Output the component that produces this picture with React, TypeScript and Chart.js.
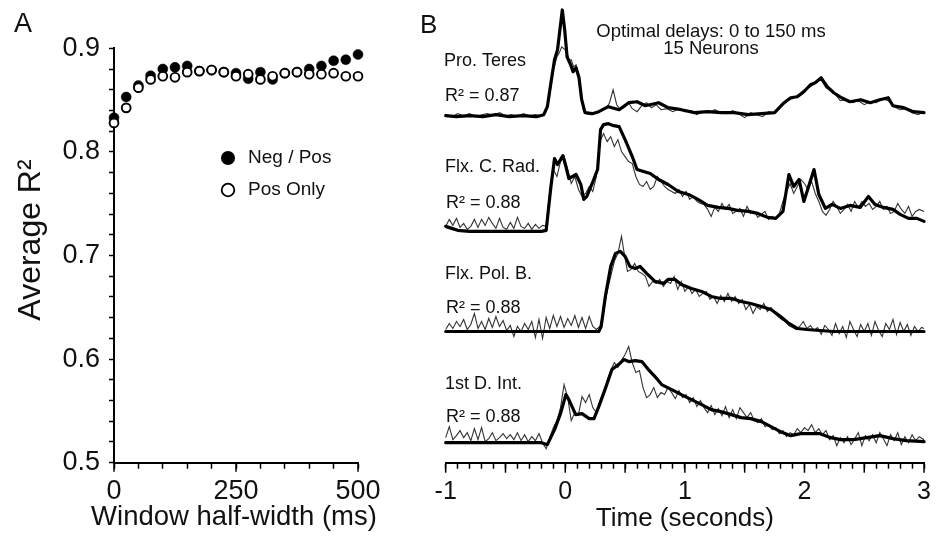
import React, { useEffect, useRef } from 'react';
import { Chart, registerables } from 'chart.js';

Chart.register(...registerables);

const FONT = '"Liberation Sans", Arial, Helvetica, sans-serif';
const INK = '#111';

// ---------------- Panel A data ----------------
const windowHalfWidthsMs = [0, 25, 50, 75, 100, 125, 150, 175, 200, 225, 250, 275, 300, 325, 350, 375, 400, 425, 450, 475, 500];
const negPosR2 = [0.833, 0.853, 0.864, 0.8735, 0.88, 0.8816, 0.883, 0.878, 0.879, 0.877, 0.876, 0.8706, 0.877, 0.87, 0.876, 0.877, 0.88, 0.883, 0.888, 0.889, 0.894];
const posOnlyR2 = [0.828, 0.8425, 0.862, 0.87, 0.873, 0.872, 0.877, 0.878, 0.879, 0.877, 0.873, 0.875, 0.87, 0.873, 0.876, 0.877, 0.875, 0.875, 0.876, 0.873, 0.873];
const panelAXTickLabels = ['0', '250', '500'];
const panelAYTickLabels = ['0.5', '0.6', '0.7', '0.8', '0.9'];
const legendLabels = ['Neg / Pos', 'Pos Only'];

// ---------------- Panel B data: [time (s), normalised activity] ----------------
const timeTickLabels = ['-1', '0', '1', '2', '3'];
const timeMajorTicks = [-1, -0.5, 0, 0.5, 1, 1.5, 2, 2.5, 3];
const traceNames = ['Pro. Teres', 'Flx. C. Rad.', 'Flx. Pol. B.', '1st D. Int.'];
const traceR2 = ['0.87', '0.88', '0.88', '0.88'];

const proTeresThick: [number, number][] = [[-1, -0.01], [-0.91, -0.02], [-0.8, -0.01], [-0.69, -0.02], [-0.58, 0], [-0.47, -0.02], [-0.36, -0.01], [-0.24, -0.02], [-0.18, 0], [-0.15, 0.08], [-0.12, 0.32], [-0.09, 0.55], [-0.065, 0.65], [-0.045, 0.85], [-0.025, 1.05], [-0.005, 0.85], [0.015, 0.58], [0.045, 0.5], [0.065, 0.43], [0.09, 0.47], [0.115, 0.37], [0.137, 0.15], [0.165, 0.02], [0.225, 0.01], [0.28, 0.03], [0.36, 0.08], [0.45, 0.05], [0.53, 0.12], [0.6, 0.13], [0.67, 0.09], [0.78, 0.12], [0.86, 0.07], [0.97, 0.05], [1.08, 0.02], [1.19, 0.03], [1.3, 0.02], [1.41, 0.02], [1.53, 0], [1.64, 0.01], [1.75, 0.02], [1.83, 0.12], [1.885, 0.17], [1.94, 0.18], [1.995, 0.23], [2.05, 0.3], [2.09, 0.32], [2.14, 0.37], [2.19, 0.28], [2.245, 0.22], [2.31, 0.17], [2.38, 0.13], [2.47, 0.15], [2.55, 0.12], [2.63, 0.15], [2.7, 0.17], [2.74, 0.09], [2.83, 0.07], [2.91, 0.03], [3, 0.02]];
const proTeresThin: [number, number][] = [[-1, 0], [-0.95, -0.02], [-0.9, 0.01], [-0.85, -0.01], [-0.8, 0.01], [-0.75, -0.02], [-0.7, 0], [-0.65, 0.01], [-0.6, -0.01], [-0.55, 0.02], [-0.5, -0.01], [-0.45, 0], [-0.4, -0.02], [-0.35, 0.01], [-0.3, -0.01], [-0.25, 0], [-0.2, -0.01], [-0.16, 0.03], [-0.13, 0.2], [-0.1, 0.45], [-0.07, 0.58], [-0.05, 0.62], [-0.03, 0.68], [-0.01, 0.66], [0.01, 0.64], [0.03, 0.55], [0.05, 0.55], [0.07, 0.48], [0.09, 0.5], [0.11, 0.4], [0.13, 0.2], [0.15, 0.05], [0.18, 0.01], [0.22, 0], [0.26, 0.02], [0.3, 0.05], [0.34, 0.06], [0.37, 0.12], [0.4, 0.25], [0.43, 0.1], [0.46, 0.05], [0.5, 0.08], [0.53, 0.12], [0.56, 0.06], [0.6, 0.03], [0.64, 0.09], [0.68, 0.12], [0.72, 0.07], [0.76, 0.1], [0.8, 0.05], [0.85, 0.06], [0.9, 0.03], [0.95, 0.06], [1, 0.03], [1.05, 0.04], [1.1, 0], [1.15, 0.03], [1.2, 0.02], [1.25, 0.05], [1.3, 0.02], [1.35, 0.01], [1.4, 0.04], [1.45, 0.01], [1.5, -0.03], [1.55, 0.02], [1.6, 0], [1.65, -0.02], [1.7, 0.03], [1.75, 0.01], [1.8, 0.08], [1.85, 0.15], [1.9, 0.16], [1.95, 0.2], [2, 0.25], [2.05, 0.28], [2.1, 0.33], [2.14, 0.35], [2.18, 0.27], [2.22, 0.25], [2.26, 0.2], [2.3, 0.14], [2.35, 0.15], [2.4, 0.12], [2.45, 0.14], [2.5, 0.1], [2.55, 0.13], [2.6, 0.12], [2.65, 0.16], [2.7, 0.14], [2.75, 0.08], [2.8, 0.05], [2.85, 0.06], [2.9, 0.02], [2.95, 0], [3, 0.03]];

const flxCRadThick: [number, number][] = [[-1, 0.05], [-0.95, 0.03], [-0.9, 0.01], [-0.8, 0], [-0.7, 0], [-0.6, 0], [-0.5, 0], [-0.4, 0], [-0.3, 0], [-0.2, 0], [-0.16, 0.01], [-0.12, 0.45], [-0.09, 0.73], [-0.065, 0.67], [-0.02, 0.76], [0.005, 0.65], [0.03, 0.53], [0.09, 0.57], [0.13, 0.47], [0.155, 0.32], [0.18, 0.35], [0.225, 0.48], [0.27, 0.62], [0.295, 1.02], [0.32, 1.07], [0.36, 1.08], [0.405, 1.06], [0.45, 1.05], [0.5, 0.92], [0.56, 0.75], [0.6, 0.62], [0.655, 0.6], [0.71, 0.58], [0.78, 0.52], [0.86, 0.47], [0.945, 0.4], [1.03, 0.37], [1.11, 0.32], [1.19, 0.26], [1.28, 0.24], [1.36, 0.23], [1.44, 0.21], [1.53, 0.2], [1.61, 0.18], [1.69, 0.14], [1.76, 0.13], [1.82, 0.2], [1.87, 0.57], [1.91, 0.45], [1.955, 0.52], [1.995, 0.3], [2.04, 0.47], [2.08, 0.62], [2.12, 0.37], [2.175, 0.23], [2.23, 0.27], [2.3, 0.23], [2.38, 0.26], [2.465, 0.24], [2.535, 0.35], [2.59, 0.27], [2.66, 0.24], [2.74, 0.22], [2.8, 0.17], [2.87, 0.13], [2.94, 0.13], [3, 0.1]];
const flxCRadThin: [number, number][] = [[-1, 0.05], [-0.97, 0.12], [-0.94, 0.06], [-0.91, 0.13], [-0.88, 0.04], [-0.85, 0.08], [-0.82, 0.02], [-0.79, 0.05], [-0.76, 0.12], [-0.73, 0.04], [-0.7, 0.12], [-0.67, 0.06], [-0.64, 0.14], [-0.61, 0.08], [-0.58, 0.03], [-0.55, 0.13], [-0.52, 0.04], [-0.49, 0.02], [-0.46, 0.09], [-0.43, 0.03], [-0.4, 0.14], [-0.37, 0.05], [-0.34, 0.03], [-0.31, 0.08], [-0.28, 0.02], [-0.25, 0.07], [-0.22, 0.03], [-0.19, 0.06], [-0.16, 0.05], [-0.13, 0.4], [-0.1, 0.62], [-0.07, 0.55], [-0.04, 0.7], [-0.01, 0.75], [0.02, 0.62], [0.05, 0.48], [0.08, 0.55], [0.11, 0.42], [0.14, 0.35], [0.17, 0.38], [0.2, 0.45], [0.23, 0.4], [0.26, 0.55], [0.29, 0.9], [0.32, 0.98], [0.35, 0.9], [0.38, 0.95], [0.41, 0.85], [0.44, 0.92], [0.47, 0.8], [0.5, 0.75], [0.53, 0.7], [0.56, 0.68], [0.59, 0.55], [0.62, 0.47], [0.65, 0.45], [0.68, 0.5], [0.71, 0.42], [0.74, 0.45], [0.77, 0.55], [0.8, 0.5], [0.83, 0.45], [0.86, 0.42], [0.89, 0.4], [0.92, 0.38], [0.95, 0.42], [0.98, 0.35], [1.01, 0.4], [1.04, 0.32], [1.07, 0.35], [1.1, 0.3], [1.13, 0.28], [1.16, 0.27], [1.19, 0.22], [1.22, 0.15], [1.25, 0.24], [1.28, 0.2], [1.31, 0.28], [1.34, 0.22], [1.37, 0.27], [1.4, 0.18], [1.43, 0.2], [1.46, 0.23], [1.49, 0.15], [1.52, 0.25], [1.55, 0.18], [1.58, 0.2], [1.61, 0.14], [1.64, 0.17], [1.67, 0.2], [1.7, 0.12], [1.73, 0.15], [1.76, 0.13], [1.79, 0.18], [1.82, 0.3], [1.85, 0.4], [1.88, 0.48], [1.91, 0.38], [1.94, 0.45], [1.97, 0.52], [2, 0.48], [2.03, 0.42], [2.06, 0.5], [2.09, 0.38], [2.12, 0.3], [2.15, 0.2], [2.18, 0.16], [2.21, 0.22], [2.24, 0.3], [2.27, 0.25], [2.3, 0.18], [2.33, 0.22], [2.36, 0.27], [2.39, 0.2], [2.42, 0.3], [2.45, 0.24], [2.48, 0.3], [2.51, 0.25], [2.54, 0.28], [2.57, 0.22], [2.6, 0.25], [2.63, 0.3], [2.66, 0.22], [2.69, 0.25], [2.72, 0.18], [2.75, 0.2], [2.78, 0.28], [2.81, 0.22], [2.84, 0.18], [2.87, 0.25], [2.9, 0.15], [2.93, 0.2], [2.96, 0.22], [3, 0.2]];

const flxPolBThick: [number, number][] = [[-1, 0], [-0.7, 0], [-0.4, 0], [-0.1, 0], [0.28, 0], [0.3, 0.05], [0.335, 0.35], [0.38, 0.65], [0.42, 0.78], [0.46, 0.8], [0.5, 0.75], [0.54, 0.65], [0.585, 0.63], [0.625, 0.65], [0.68, 0.58], [0.75, 0.5], [0.82, 0.48], [0.86, 0.52], [0.917, 0.52], [0.97, 0.47], [1.055, 0.43], [1.14, 0.4], [1.22, 0.35], [1.3, 0.33], [1.39, 0.33], [1.47, 0.3], [1.55, 0.28], [1.64, 0.25], [1.72, 0.22], [1.8, 0.15], [1.87, 0.08], [1.94, 0.03], [2.02, 0.02], [2.13, 0.01], [2.24, 0], [2.6, 0], [3, 0]];
const flxPolBThin: [number, number][] = [[-1, 0.02], [-0.97, 0.08], [-0.94, 0.03], [-0.91, 0.1], [-0.88, 0.05], [-0.85, 0.12], [-0.82, 0.02], [-0.79, 0.07], [-0.76, 0.18], [-0.73, 0.03], [-0.7, 0.1], [-0.67, 0.02], [-0.64, 0.13], [-0.61, 0.04], [-0.58, 0.15], [-0.55, 0.05], [-0.52, 0.11], [-0.49, 0.01], [-0.46, 0.06], [-0.43, -0.05], [-0.4, 0.05], [-0.37, 0], [-0.34, 0.08], [-0.31, 0.02], [-0.28, 0.1], [-0.25, -0.06], [-0.22, 0.12], [-0.19, -0.07], [-0.16, 0.14], [-0.13, 0.03], [-0.1, 0.16], [-0.07, 0.05], [-0.04, 0.15], [-0.01, 0.04], [0.02, 0.13], [0.05, 0.06], [0.08, 0.16], [0.11, 0.04], [0.14, 0.14], [0.17, 0.03], [0.2, 0.15], [0.23, 0.05], [0.26, 0.02], [0.29, 0.05], [0.32, 0.2], [0.35, 0.4], [0.38, 0.55], [0.41, 0.7], [0.44, 0.78], [0.47, 0.95], [0.49, 0.8], [0.52, 0.6], [0.55, 0.62], [0.58, 0.68], [0.61, 0.6], [0.64, 0.58], [0.67, 0.55], [0.7, 0.45], [0.73, 0.5], [0.76, 0.48], [0.79, 0.52], [0.82, 0.45], [0.85, 0.5], [0.88, 0.48], [0.91, 0.55], [0.94, 0.42], [0.97, 0.5], [1, 0.4], [1.03, 0.45], [1.06, 0.38], [1.09, 0.42], [1.12, 0.35], [1.15, 0.38], [1.18, 0.4], [1.21, 0.32], [1.24, 0.35], [1.27, 0.28], [1.3, 0.36], [1.33, 0.3], [1.36, 0.38], [1.39, 0.3], [1.42, 0.35], [1.45, 0.28], [1.48, 0.32], [1.51, 0.22], [1.54, 0.27], [1.57, 0.18], [1.6, 0.25], [1.63, 0.22], [1.66, 0.28], [1.69, 0.2], [1.72, 0.24], [1.75, 0.18], [1.78, 0.15], [1.81, 0.12], [1.84, 0.1], [1.87, 0.06], [1.9, 0.04], [1.93, 0.02], [1.96, 0.05], [1.99, 0.1], [2.02, 0.03], [2.05, 0.06], [2.08, 0.01], [2.11, 0.04], [2.14, -0.03], [2.17, 0.06], [2.2, 0.02], [2.23, -0.04], [2.26, 0.08], [2.29, -0.02], [2.32, 0.05], [2.35, -0.06], [2.38, 0.1], [2.41, 0.02], [2.44, -0.05], [2.47, 0.07], [2.5, 0], [2.53, 0.08], [2.56, -0.04], [2.59, 0.1], [2.62, 0.01], [2.65, -0.05], [2.68, 0.08], [2.71, 0.02], [2.74, 0.12], [2.77, -0.03], [2.8, 0.09], [2.83, 0], [2.86, 0.07], [2.89, -0.04], [2.92, 0.05], [2.95, 0], [2.98, 0.04], [3, 0.03]];

const firstDIntThick: [number, number][] = [[-1, 0], [-0.6, 0], [-0.3, 0], [-0.2, 0], [-0.15, -0.02], [-0.09, 0.13], [-0.04, 0.29], [0.005, 0.48], [0.03, 0.43], [0.087, 0.28], [0.14, 0.29], [0.2, 0.24], [0.24, 0.24], [0.28, 0.36], [0.335, 0.54], [0.39, 0.73], [0.445, 0.78], [0.49, 0.83], [0.53, 0.81], [0.585, 0.82], [0.64, 0.81], [0.695, 0.73], [0.75, 0.66], [0.806, 0.58], [0.89, 0.53], [0.97, 0.48], [1.055, 0.43], [1.14, 0.38], [1.22, 0.33], [1.3, 0.31], [1.39, 0.28], [1.47, 0.25], [1.55, 0.24], [1.64, 0.21], [1.72, 0.16], [1.8, 0.11], [1.885, 0.07], [1.97, 0.09], [2.05, 0.09], [2.13, 0.09], [2.22, 0.05], [2.3, 0.03], [2.41, 0.03], [2.52, 0.05], [2.63, 0.07], [2.74, 0.04], [2.85, 0.02], [3, 0.01]];
const firstDIntThin: [number, number][] = [[-1, 0.05], [-0.97, 0.16], [-0.94, 0.03], [-0.91, 0.07], [-0.88, 0.12], [-0.85, 0.05], [-0.82, 0.1], [-0.79, 0.02], [-0.76, 0.14], [-0.73, 0.03], [-0.7, 0.15], [-0.67, 0.01], [-0.64, 0.04], [-0.61, 0.1], [-0.58, 0.02], [-0.55, 0.05], [-0.52, 0.09], [-0.49, 0.04], [-0.46, 0.08], [-0.43, 0.03], [-0.4, 0.1], [-0.37, 0.02], [-0.34, 0.08], [-0.31, 0.01], [-0.28, 0.06], [-0.25, 0.02], [-0.22, 0.09], [-0.19, 0], [-0.16, -0.06], [-0.13, 0.05], [-0.1, 0.15], [-0.07, 0.22], [-0.04, 0.35], [-0.01, 0.58], [0.02, 0.45], [0.05, 0.22], [0.08, 0.3], [0.11, 0.28], [0.14, 0.46], [0.17, 0.4], [0.2, 0.48], [0.23, 0.35], [0.26, 0.3], [0.29, 0.42], [0.32, 0.5], [0.35, 0.62], [0.38, 0.72], [0.41, 0.8], [0.44, 0.75], [0.47, 0.82], [0.5, 0.88], [0.53, 0.96], [0.56, 0.8], [0.59, 0.7], [0.62, 0.72], [0.65, 0.55], [0.68, 0.45], [0.71, 0.48], [0.74, 0.55], [0.77, 0.45], [0.8, 0.5], [0.83, 0.48], [0.86, 0.55], [0.89, 0.5], [0.92, 0.44], [0.95, 0.52], [0.98, 0.45], [1.01, 0.48], [1.04, 0.4], [1.07, 0.45], [1.1, 0.36], [1.13, 0.42], [1.16, 0.35], [1.19, 0.3], [1.22, 0.37], [1.25, 0.28], [1.28, 0.34], [1.31, 0.27], [1.34, 0.36], [1.37, 0.25], [1.4, 0.33], [1.43, 0.24], [1.46, 0.35], [1.49, 0.3], [1.52, 0.25], [1.55, 0.3], [1.58, 0.22], [1.61, 0.2], [1.64, 0.24], [1.67, 0.16], [1.7, 0.18], [1.73, 0.13], [1.76, 0.15], [1.79, 0.09], [1.82, 0.12], [1.85, 0.06], [1.88, 0.1], [1.91, 0.08], [1.94, 0.14], [1.97, 0.1], [2, 0.15], [2.03, 0.12], [2.06, 0.18], [2.09, 0.1], [2.12, 0.14], [2.15, 0.08], [2.18, 0.12], [2.21, 0.03], [2.24, 0.07], [2.27, -0.03], [2.3, 0.05], [2.33, 0], [2.36, 0.06], [2.39, -0.02], [2.42, 0.04], [2.45, 0.1], [2.48, -0.03], [2.51, 0.07], [2.54, 0.02], [2.57, 0.08], [2.6, 0], [2.63, 0.1], [2.66, 0.04], [2.69, -0.03], [2.72, 0.08], [2.75, 0.02], [2.78, 0.1], [2.81, -0.02], [2.84, 0.06], [2.87, 0], [2.9, 0.08], [2.93, 0.02], [2.96, 0.06], [3, 0.03]];

// ---------------- helpers ----------------
type Txt = { text: string; x: number; y: number; size: number; align?: CanvasTextAlign; baseline?: CanvasTextBaseline; rotate?: number };

const makeTextPlugin = (id: string, items: Txt[], extra?: (ctx: CanvasRenderingContext2D) => void) => ({
  id,
  afterDraw(chart: any) {
    const ctx: CanvasRenderingContext2D = chart.ctx;
    if (extra) { ctx.save(); extra(ctx); ctx.restore(); }
    for (const t of items) {
      ctx.save();
      ctx.translate(t.x, t.y);
      if (t.rotate) ctx.rotate(t.rotate);
      ctx.font = `${t.size}px ${FONT}`;
      ctx.fillStyle = INK;
      ctx.textAlign = t.align || 'left';
      ctx.textBaseline = t.baseline || 'alphabetic';
      ctx.fillText(t.text, 0, 0);
      ctx.restore();
    }
  },
});

const makeMajorTickPlugin = (id: string, axis: string, values: number[], length: number) => ({
  id,
  afterDraw(chart: any) {
    const scale = chart.scales[axis];
    const ctx: CanvasRenderingContext2D = chart.ctx;
    ctx.save();
    ctx.strokeStyle = '#000';
    ctx.lineWidth = 1.5;
    for (const v of values) {
      const px = scale.getPixelForValue(v);
      ctx.beginPath();
      ctx.moveTo(px, scale.top);
      ctx.lineTo(px, scale.top + length);
      ctx.stroke();
    }
    ctx.restore();
  },
});

const axisGrid = { drawOnChartArea: false, drawTicks: true, tickLength: 6, tickColor: '#000', tickWidth: 1.5 };
const axisBorder = { display: true, color: '#000', width: 2 };

const toXY = (pairs: [number, number][]) => pairs.map(([x, y]) => ({ x, y }));

export default function App() {
  const aRef = useRef<HTMLCanvasElement | null>(null);
  const bRef = useRef<HTMLCanvasElement | null>(null);

  useEffect(() => {
    if (!aRef.current || !bRef.current) return;

    // ---------- Panel A ----------
    const legendMarks = (ctx: CanvasRenderingContext2D) => {
      ctx.fillStyle = '#000';
      ctx.beginPath();
      ctx.arc(228, 158, 7, 0, Math.PI * 2);
      ctx.fill();
      ctx.strokeStyle = '#000';
      ctx.lineWidth = 1.8;
      ctx.fillStyle = '#fff';
      ctx.beginPath();
      ctx.arc(228, 190, 6.3, 0, Math.PI * 2);
      ctx.fill();
      ctx.stroke();
    };
    const textsA: Txt[] = [
      { text: 'A', x: 14, y: 32, size: 27 },
      { text: 'Average R²', x: 40, y: 240, size: 32, rotate: -Math.PI / 2, align: 'center' },
      { text: 'Window half-width (ms)', x: 234, y: 525, size: 27.5, align: 'center' },
      { text: legendLabels[0], x: 248, y: 158, size: 19, baseline: 'middle' },
      { text: legendLabels[1], x: 248, y: 190, size: 19, baseline: 'middle' },
    ];

    const chartA = new Chart(aRef.current, {
      type: 'scatter',
      data: {
        datasets: [
          {
            label: legendLabels[1],
            data: windowHalfWidthsMs.map((x, i) => ({ x, y: posOnlyR2[i] })),
            pointRadius: 4.4,
            pointBorderWidth: 1.9,
            pointBackgroundColor: '#fff',
            pointBorderColor: '#000',
            clip: false,
            order: 0,
          },
          {
            label: legendLabels[0],
            data: windowHalfWidthsMs.map((x, i) => ({ x, y: negPosR2[i] })),
            pointRadius: 5,
            pointBorderWidth: 0.5,
            pointBackgroundColor: '#000',
            pointBorderColor: '#000',
            clip: false,
            order: 1,
          },
        ],
      } as any,
      options: {
        animation: false,
        responsive: true,
        maintainAspectRatio: false,
        events: [],
        layout: { padding: { top: 48.3, right: 52, left: 0, bottom: 0 } },
        plugins: { legend: { display: false }, tooltip: { enabled: false } },
        scales: {
          x: {
            type: 'linear',
            min: 0,
            max: 500,
            afterFit: (s: any) => { s.height = 75.3; },
            ticks: {
              stepSize: 50,
              autoSkip: false,
              maxRotation: 0,
              padding: 7,
              font: { family: FONT, size: 27 },
              color: INK,
              callback: (v: any) => { const s = String(Math.round(Number(v))); return panelAXTickLabels.includes(s) ? s : ''; },
            },
            grid: axisGrid,
            border: axisBorder,
          },
          y: {
            type: 'linear',
            min: 0.5,
            max: 0.9,
            afterFit: (s: any) => { s.width = 114; },
            ticks: {
              stepSize: 0.02,
              autoSkip: false,
              padding: 9,
              font: { family: FONT, size: 27 },
              color: INK,
              callback: (v: any) => { const s = (Math.round(Number(v) * 100) / 100).toFixed(2).replace(/0$/, ''); return panelAYTickLabels.includes(s) ? s : ''; },
            },
            grid: { ...axisGrid, tickLength: 5 },
            border: axisBorder,
          },
        },
      } as any,
      plugins: [makeTextPlugin('textsA', textsA, legendMarks), makeMajorTickPlugin('majorA', 'x', [0, 250, 500], 9)],
    });

    // ---------- Panel B ----------
    const OFF = 410;
    const textsB: Txt[] = [
      { text: 'B', x: 420 - OFF, y: 32.5, size: 26 },
      { text: 'Optimal delays: 0 to 150 ms', x: 711 - OFF, y: 37, size: 18.5, align: 'center' },
      { text: '15 Neurons', x: 711 - OFF, y: 53.5, size: 18.5, align: 'center' },
      { text: traceNames[0], x: 444 - OFF, y: 66, size: 18 },
      { text: `R² = ${traceR2[0]}`, x: 445 - OFF, y: 101, size: 18 },
      { text: traceNames[1], x: 445 - OFF, y: 172, size: 18 },
      { text: `R² = ${traceR2[1]}`, x: 446 - OFF, y: 208, size: 18 },
      { text: traceNames[2], x: 445 - OFF, y: 279, size: 18 },
      { text: `R² = ${traceR2[2]}`, x: 446 - OFF, y: 313, size: 18 },
      { text: traceNames[3], x: 445 - OFF, y: 389, size: 18 },
      { text: `R² = ${traceR2[3]}`, x: 446 - OFF, y: 422, size: 18 },
    ];

    const thick = (pairs: [number, number][], yAxisID: string) => ({
      data: toXY(pairs), yAxisID, xAxisID: 'x', borderColor: '#000', borderWidth: 3.2,
      pointRadius: 0, tension: 0, fill: false, clip: false, order: 0, borderJoinStyle: 'round', borderCapStyle: 'round',
    });
    const thin = (pairs: [number, number][], yAxisID: string) => ({
      data: toXY(pairs), yAxisID, xAxisID: 'x', borderColor: '#333', borderWidth: 1.1,
      pointRadius: 0, tension: 0, fill: false, clip: false, order: 1,
    });
    const band = (min: number, max: number, weight: number) => ({
      type: 'linear', display: false, position: 'left', stack: 'traces', stackWeight: 1, weight, min, max,
    });

    const chartB = new Chart(bRef.current, {
      type: 'line',
      data: {
        datasets: [
          thick(proTeresThick, 'yT'), thick(flxCRadThick, 'yC'), thick(flxPolBThick, 'yP'), thick(firstDIntThick, 'yD'),
          thin(proTeresThin, 'yT'), thin(flxCRadThin, 'yC'), thin(flxPolBThin, 'yP'), thin(firstDIntThin, 'yD'),
        ],
      } as any,
      options: {
        animation: false,
        responsive: true,
        maintainAspectRatio: false,
        events: [],
        layout: { padding: { top: 0, right: 11.3, left: 35.7, bottom: 0 } },
        plugins: { legend: { display: false }, tooltip: { enabled: false } },
        scales: {
          x: {
            type: 'linear',
            min: -1,
            max: 3,
            afterFit: (s: any) => { s.height = 75.3; },
            ticks: {
              stepSize: 0.1,
              autoSkip: false,
              maxRotation: 0,
              padding: 8,
              font: { family: FONT, size: 25 },
              color: INK,
              callback: (v: any) => { const r = Math.round(Number(v) * 10); if (r % 10 !== 0) return ''; const s = String(r / 10); return timeTickLabels.includes(s) ? s : ''; },
            },
            grid: axisGrid,
            border: axisBorder,
            title: { display: true, text: 'Time (seconds)', font: { family: FONT, size: 26 }, color: INK, padding: { top: 0, bottom: 4 } },
          },
          yT: band(-0.01, 1.15, 4),
          yC: band(0, 1.16, 3),
          yP: band(-0.155, 1.0, 2),
          yD: band(-0.2, 0.955, 1),
        },
      } as any,
      plugins: [makeTextPlugin('textsB', textsB), makeMajorTickPlugin('majorB', 'x', timeMajorTicks, 10)],
    });

    return () => { chartA.destroy(); chartB.destroy(); };
  }, []);

  return (
    <div style={{ position: 'fixed', left: 0, top: 0, width: 939, height: 538, background: '#fff' }}>
      <div style={{ position: 'absolute', left: 0, top: 0, width: 410, height: 538 }}>
        <canvas ref={aRef} />
      </div>
      <div style={{ position: 'absolute', left: 410, top: 0, width: 529, height: 538 }}>
        <canvas ref={bRef} />
      </div>
    </div>
  );
}
